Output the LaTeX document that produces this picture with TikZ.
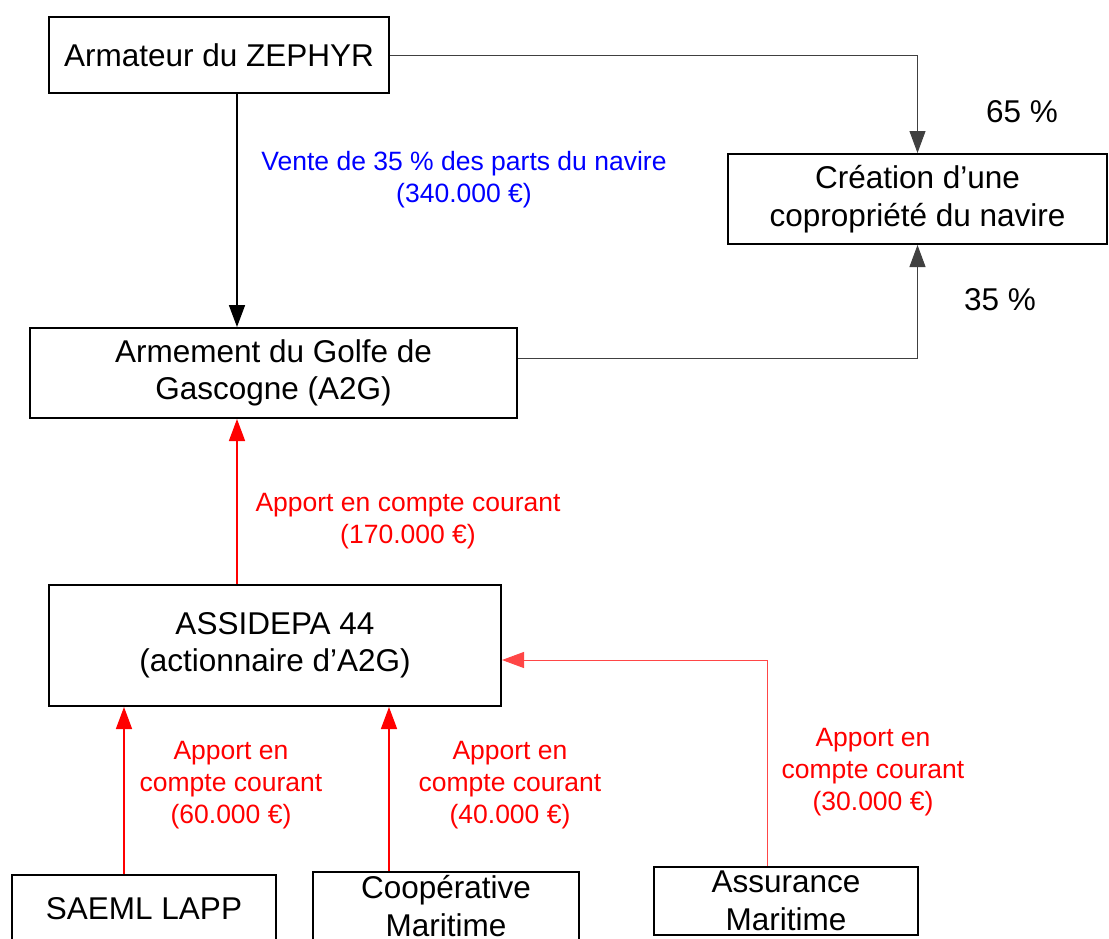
\documentclass[tikz,border=0pt]{standalone}
\usepackage{fontspec}
\setmainfont{Liberation Sans}
\usetikzlibrary{arrows.meta}
\definecolor{lred}{RGB}{255,70,70}
\begin{document}
\begin{tikzpicture}[x=1pt,y=-1pt,
  box/.style={draw,line width=2pt,rectangle,inner sep=0pt,align=center,
    font=\fontsize{31.5}{37.5}\selectfont},
  lbl/.style={align=center,inner sep=0pt,font=\fontsize{26.5}{32}\selectfont},
  pct/.style={inner sep=0pt,font=\fontsize{31.5}{37.5}\selectfont},
  arr/.style={-{Triangle[length=22pt,width=16pt]}},
  blk/.style={arr,line width=1.6pt,black},
  thin/.style={arr,line width=1pt,black!75},
  rd/.style={arr,line width=1.6pt,red},
  rdthin/.style={arr,line width=1pt,lred}]
\useasboundingbox (0,0) rectangle (1109,938);
% boxes
\node[box,minimum width=340pt,minimum height=76pt] (arm) at (219,55) {Armateur du ZEPHYR};
\node[box,minimum width=379pt,minimum height=90pt] (crea) at (917.5,199) {Création d’une\\copropriété du navire};
\node[box,minimum width=487pt,minimum height=90pt] (a2g) at (273.5,373) {Armement du Golfe de\\Gascogne (A2G)};
\node[box,minimum width=452pt,minimum height=121pt] (assi) at (275,645.5) {ASSIDEPA 44\\(actionnaire d’A2G)};
\node[box,minimum width=264pt,minimum height=68pt] (saeml) at (144,909) {SAEML LAPP};
\node[box,minimum width=266pt,minimum height=68pt] (coop) at (446,906) {Coopérative\\Maritime};
\node[box,minimum width=264pt,minimum height=68pt] (assu) at (786,901) {Assurance\\Maritime};
% helper coordinates
\coordinate (xa) at (237,0);
\coordinate (ya) at (0,358);
\coordinate (yb) at (0,660);
\coordinate (xs) at (124,0);
\coordinate (xc) at (389,0);
\coordinate (xu) at (767,0);
% connectors
\draw[blk] (arm.south -| xa) -- (a2g.north -| xa);
\draw[thin] (arm.east) -| (crea.north);
\draw[thin] (a2g.east |- ya) -| (crea.south);
\draw[rd] (assi.north -| xa) -- (a2g.south -| xa);
\draw[rd] (saeml.north -| xs) -- (assi.south -| xs);
\draw[rd] (coop.north -| xc) -- (assi.south -| xc);
\draw[rdthin] (assu.north -| xu) |- (assi.east |- yb);
% labels
\node[pct] (p65) at (1022,112) {65 \%};
\node[pct] (p35) at (1000,300) {35 \%};
\node[lbl,text=blue] (lv) at (464,180) {Vente de 35 \% des parts du navire\\(340.000 €)};
\node[lbl,text=red] (l1) at (408,521) {Apport en compte courant\\(170.000 €)};
\node[lbl,text=red] (l2) at (231,785) {Apport en\\compte courant\\(60.000 €)};
\node[lbl,text=red] (l3) at (510,785) {Apport en\\compte courant\\(40.000 €)};
\node[lbl,text=red] (l4) at (873,772) {Apport en\\compte courant\\(30.000 €)};
\end{tikzpicture}
\end{document}
